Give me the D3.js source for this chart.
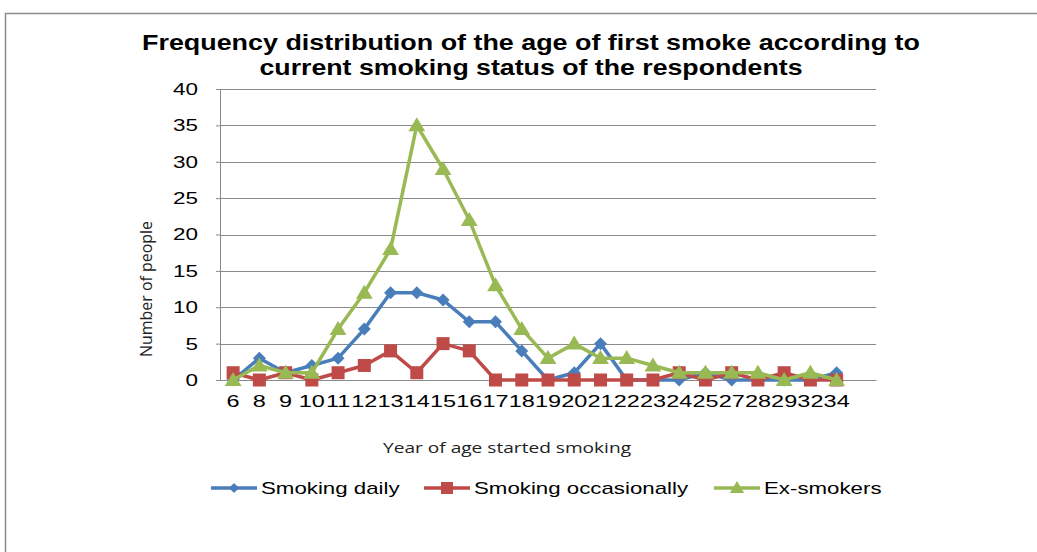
<!DOCTYPE html>
<html>
<head>
<meta charset="utf-8">
<script src="https://cdn.jsdelivr.net/npm/d3@7"></script>
<style>
  html, body { margin: 0; padding: 0; background: #fff; }
  svg { display: block; }
</style>
</head>
<body>
<svg id="chart" width="1037" height="552"></svg>
<script>
// Age at which respondents started smoking (category axis)
const ages = ["6", "8", "9", "10", "11", "12", "13", "14", "15", "16", "17", "18",
              "19", "20", "21", "22", "23", "24", "25", "27", "28", "29", "32", "34"];
// Number of people per age, by current smoking status
const smokingDaily        = [0, 3, 1, 2, 3, 7, 12, 12, 11, 8, 8, 4, 0, 1, 5, 0, 0, 0, 1, 0, 0, 0, 0, 1];
const smokingOccasionally = [1, 0, 1, 0, 1, 2, 4, 1, 5, 4, 0, 0, 0, 0, 0, 0, 0, 1, 0, 1, 0, 1, 0, 0];
const exSmokers           = [0, 2, 1, 1, 7, 12, 18, 35, 29, 22, 13, 7, 3, 5, 3, 3, 2, 1, 1, 1, 1, 0, 1, 0];
const yTicks = [0, 5, 10, 15, 20, 25, 30, 35, 40];

const series = [
  { name: "Smoking daily",        values: smokingDaily,        color: "#4A7EBB", symbol: "diamond" },
  { name: "Smoking occasionally", values: smokingOccasionally, color: "#BE4B48", symbol: "square" },
  { name: "Ex-smokers",           values: exSmokers,           color: "#98B954", symbol: "triangle" }
];

const svg = d3.select("#chart");
const plot = { left: 220, right: 876, top: 89, bottom: 380 };
const FONT = "Liberation Sans, Arial, sans-serif";

// Widen text glyphs horizontally by a factor (the chart uses a wide face)
function widen(sel, factor) {
  sel.each(function () {
    const w = this.getComputedTextLength();
    d3.select(this).attr("textLength", w * factor).attr("lengthAdjust", "spacingAndGlyphs");
  });
}

// Outer chart frame
svg.append("path")
  .attr("d", "M5.5,560 L5.5,13.5 L1045,13.5")
  .attr("fill", "none").attr("stroke", "#8c8c8c").attr("stroke-width", 1.5);

// Title
const title = svg.append("text")
  .attr("text-anchor", "middle")
  .attr("font-family", FONT)
  .attr("font-weight", "bold").attr("font-size", 22).attr("fill", "#000");
title.append("tspan").attr("x", 531).attr("y", 50)
  .attr("textLength", 778).attr("lengthAdjust", "spacingAndGlyphs")
  .text("Frequency distribution of the age of first smoke  according to");
title.append("tspan").attr("x", 531).attr("y", 75)
  .attr("textLength", 543).attr("lengthAdjust", "spacingAndGlyphs")
  .text("current smoking status of the respondents");

// Scales: one extra empty slot at the end of the category axis
const x = d3.scaleBand()
  .domain(ages.concat([""]))
  .range([plot.left, plot.right]);
const y = d3.scaleLinear().domain([0, 40]).range([plot.bottom, plot.top]);
const cx = a => x(a) + x.bandwidth() / 2;

// Gridlines
svg.append("g")
  .selectAll("line").data(yTicks.filter(t => t > 0)).join("line")
  .attr("x1", plot.left).attr("x2", plot.right)
  .attr("y1", d => Math.round(y(d)) + 0.5).attr("y2", d => Math.round(y(d)) + 0.5)
  .attr("stroke", "#8a8a8a").attr("stroke-width", 1);

// Y axis
const yAxis = svg.append("g")
  .attr("transform", `translate(${plot.left},0)`)
  .call(d3.axisLeft(y).tickValues(yTicks).tickSize(4).tickPadding(18));
yAxis.select(".domain").attr("stroke", "#8a8a8a");
yAxis.selectAll(".tick line").attr("stroke", "#8a8a8a");
yAxis.selectAll("text")
  .attr("font-family", FONT)
  .attr("font-size", 17).attr("fill", "#000")
  .call(widen, 1.32);

// X axis
const xAxis = svg.append("g")
  .attr("transform", `translate(0,${plot.bottom})`)
  .call(d3.axisBottom(x).tickValues(ages).tickSize(0).tickPadding(15));
xAxis.select(".domain").attr("stroke", "#8a8a8a");
xAxis.selectAll("text")
  .attr("font-family", FONT)
  .attr("font-size", 17).attr("fill", "#000")
  .call(widen, 1.38);

// Axis titles
svg.append("text")
  .attr("x", 507).attr("y", 453).attr("text-anchor", "middle")
  .attr("font-family", "Open Sans, sans-serif").attr("font-size", 15).attr("fill", "#222")
  .attr("textLength", 248).attr("lengthAdjust", "spacingAndGlyphs")
  .text("Year of age started smoking");
svg.append("text")
  .attr("transform", "translate(152,289) rotate(-90)").attr("text-anchor", "middle")
  .attr("font-family", "Open Sans, sans-serif").attr("font-size", 16).attr("fill", "#222")
  .attr("textLength", 136).attr("lengthAdjust", "spacingAndGlyphs")
  .text("Number of people");

// Marker shapes
function markerPath(symbol, s) {
  if (symbol === "diamond") return `M0,${-s} L${s},0 L0,${s} L${-s},0 Z`;
  if (symbol === "square") return `M${-s},${-s} H${s} V${s} H${-s} Z`;
  return `M0,${-s * 1.15} L${s * 1.2},${s * 0.85} L${-s * 1.2},${s * 0.85} Z`;
}
const markerSize = { diamond: 6.5, square: 6.5, triangle: 7 };

const line = d3.line().x((d, i) => cx(ages[i])).y(d => y(d));

series.forEach(s => {
  const g = svg.append("g");
  g.append("path")
    .attr("d", line(s.values))
    .attr("fill", "none").attr("stroke", s.color)
    .attr("stroke-width", 3.5).attr("stroke-linejoin", "round");
  g.selectAll("path.mk").data(s.values).join("path")
    .attr("class", "mk")
    .attr("transform", (d, i) => `translate(${cx(ages[i])},${y(d)})`)
    .attr("d", markerPath(s.symbol, markerSize[s.symbol]))
    .attr("fill", s.color);
});

// Legend
const legendX = [211, 424, 714];
series.forEach((s, i) => {
  const g = svg.append("g").attr("transform", `translate(${legendX[i]},488)`);
  g.append("line").attr("x1", 0).attr("x2", 46).attr("y1", 0).attr("y2", 0)
    .attr("stroke", s.color).attr("stroke-width", 3.5);
  g.append("path").attr("transform", "translate(23,0)")
    .attr("d", markerPath(s.symbol, s.symbol === "diamond" ? 5 : 6))
    .attr("fill", s.color);
  g.append("text").attr("x", 50).attr("y", 6)
    .attr("font-family", FONT)
    .attr("font-size", 17).attr("fill", "#000")
    .text(s.name)
    .call(widen, 1.31);
});
</script>
</body>
</html>
